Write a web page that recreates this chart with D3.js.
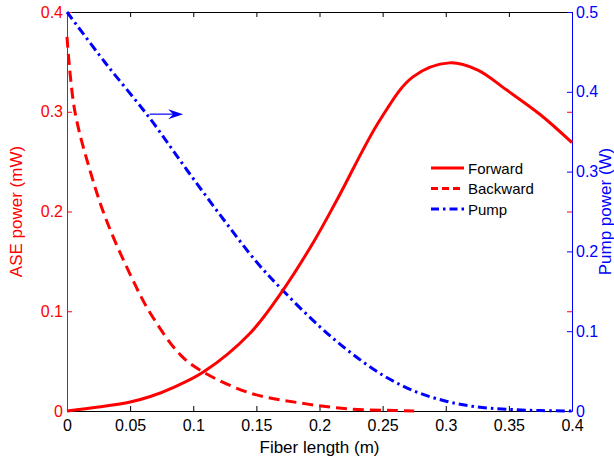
<!DOCTYPE html>
<html><head><meta charset="utf-8">
<script src="https://cdn.jsdelivr.net/npm/d3@7"></script>
<style>body{margin:0;background:#fff}svg{display:block;font-family:"Liberation Sans",Arial,Helvetica,sans-serif}</style>
</head><body><svg id="c" width="614" height="463"></svg>
<script>
const xTicks = [0,0.05,0.1,0.15,0.2,0.25,0.3,0.35,0.4];
const xTickLabels = ["0","0.05","0.1","0.15","0.2","0.25","0.3","0.35","0.4"];
const aseTicks = [0,0.1,0.2,0.3,0.4];
const pumpTicks = [0,0.1,0.2,0.3,0.4,0.5];

const forwardX = [0,0.025,0.05,0.066,0.085,0.108,0.145,0.171,0.196,0.214,0.248,0.274,0.303,0.325,0.348,0.375,0.4];
const forwardY = [0,0.004,0.009,0.0145,0.024,0.039,0.078,0.121,0.171,0.212,0.292,0.335,0.349,0.342,0.322,0.297,0.269];
const backwardX = [0,0.006,0.018,0.031,0.05,0.066,0.09,0.108,0.145,0.185,0.224,0.26,0.275];
const backwardY = [0.375,0.302,0.242,0.192,0.137,0.098,0.056,0.039,0.018,0.008,0.002,0.0005,0];
const pumpX = [0,0.03,0.066,0.095,0.124,0.15,0.171,0.2,0.224,0.25,0.275,0.301,0.325,0.35,0.375,0.4];
const pumpY = [0.5,0.437,0.366,0.302,0.240,0.187,0.151,0.106,0.074,0.045,0.025,0.012,0.005,0.002,0.0005,0];

const legendNames = ["Forward","Backward","Pump"];

const L=67,R=572,T=12,B=411;
const svg=d3.select("#c");
const x=d3.scaleLinear().domain([0,0.4]).range([L,R]);
const yA=d3.scaleLinear().domain([0,0.4]).range([B,T]);
const yP=d3.scaleLinear().domain([0,0.5]).range([B,T]);
const red="#ff0000", blue="#0000ff";
const fs=16;

// bottom axis
const gB=svg.append("g").attr("transform",`translate(0,${B})`)
  .call(d3.axisBottom(x).tickValues(xTicks).tickFormat((d,i)=>xTickLabels[i]).tickSizeInner(-5).tickSizeOuter(0).tickPadding(9));
gB.selectAll("text").attr("font-size",fs).attr("fill","#000").attr("font-family","Liberation Sans, Arial");
gB.select(".domain").attr("stroke","#000");
// top axis
const gT=svg.append("g").attr("transform",`translate(0,${T})`)
  .call(d3.axisTop(x).tickValues(xTicks).tickFormat("").tickSizeInner(-5).tickSizeOuter(0));
gT.select(".domain").attr("stroke","#000");
// left axis
const gL=svg.append("g").attr("transform",`translate(${L},0)`)
  .call(d3.axisLeft(yA).tickValues(aseTicks).tickFormat(d=>d===0?"0":d3.format(".1f")(d)).tickSizeInner(-5).tickSizeOuter(0).tickPadding(4));
gL.selectAll("text").attr("font-size",fs).attr("fill",red).attr("font-family","Liberation Sans, Arial");
gL.selectAll("line").attr("stroke",red);
gL.select(".domain").attr("stroke",red);
// red ticks mirrored on right
const gLR=svg.append("g").attr("transform",`translate(${R},0)`)
  .call(d3.axisRight(yA).tickValues(aseTicks).tickFormat("").tickSizeInner(-5).tickSizeOuter(0));
gLR.selectAll("line").attr("stroke",red);
gLR.select(".domain").remove();
// right axis
const gR=svg.append("g").attr("transform",`translate(${R},0)`)
  .call(d3.axisRight(yP).tickValues(pumpTicks).tickFormat(d=>d===0?"0":d3.format(".1f")(d)).tickSizeInner(-5).tickSizeOuter(0).tickPadding(4));
gR.selectAll("text").attr("font-size",fs).attr("fill",blue).attr("font-family","Liberation Sans, Arial");
gR.selectAll("line").attr("stroke",blue);
gR.select(".domain").attr("stroke",blue);

// axis labels
svg.append("text").attr("x",(L+R)/2).attr("y",453).attr("text-anchor","middle").attr("font-size",17).attr("fill","#000").text("Fiber length (m)");
svg.append("text").attr("transform",`translate(22,${(T+B)/2}) rotate(-90)`).attr("text-anchor","middle").attr("font-size",17).attr("fill",red).text("ASE power (mW)");
svg.append("text").attr("transform",`translate(611,${(T+B)/2}) rotate(-90)`).attr("text-anchor","middle").attr("font-size",17).attr("fill",blue).text("Pump power (W)");

const lineA=d3.line().x(d=>x(d[0])).y(d=>yA(d[1])).curve(d3.curveCatmullRom.alpha(0.5));
const lineP=d3.line().x(d=>x(d[0])).y(d=>yP(d[1])).curve(d3.curveCatmullRom.alpha(0.5));
const plot=svg.append("g");
plot.append("path").datum(d3.zip(backwardX,backwardY)).attr("d",lineA).attr("fill","none").attr("stroke",red).attr("stroke-width",3).attr("stroke-dasharray","11,6");
plot.append("path").datum(d3.zip(pumpX,pumpY)).attr("d",lineP).attr("fill","none").attr("stroke",blue).attr("stroke-width",3).attr("stroke-dasharray","9,4,2.5,4");
plot.append("path").datum(d3.zip(forwardX,forwardY)).attr("d",lineA).attr("fill","none").attr("stroke",red).attr("stroke-width",3);

// arrow
const ax0=x(0.0655), ax1=x(0.092), ay=yP(0.372);
svg.append("line").attr("x1",ax0).attr("x2",ax1-8).attr("y1",ay).attr("y2",ay).attr("stroke",blue).attr("stroke-width",1.2);
svg.append("path").attr("d",`M${ax1},${ay} L${ax1-15},${ay-5} L${ax1-10},${ay} L${ax1-15},${ay+5} Z`).attr("fill",blue);

// legend
const styles=[{c:red,d:null},{c:red,d:"7,4"},{c:blue,d:"8,4,2.5,4"}];
legendNames.forEach((n,i)=>{
  const yy=168+i*20.5;
  svg.append("line").attr("x1",431).attr("x2",464).attr("y1",yy).attr("y2",yy).attr("stroke",styles[i].c).attr("stroke-width",3).attr("stroke-dasharray",styles[i].d);
  svg.append("text").attr("x",468).attr("y",yy+5.5).attr("font-size",15).attr("fill","#000").text(n);
});
</script></body></html>
